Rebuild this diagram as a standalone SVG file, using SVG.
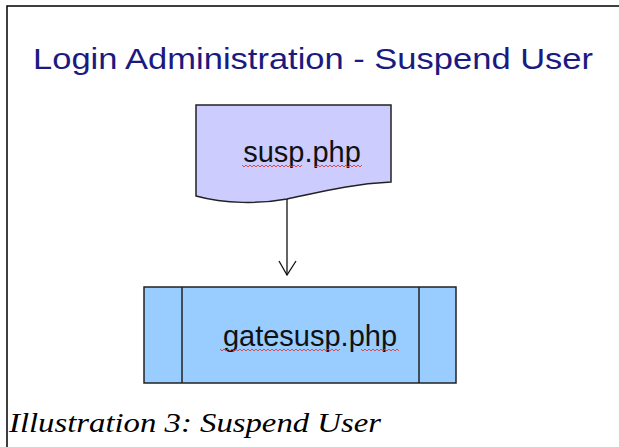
<svg xmlns="http://www.w3.org/2000/svg" width="619" height="447" viewBox="0 0 619 447">
  <style>
    .frame { stroke: #000; stroke-width: 1.5; fill: none; }
    .shape { stroke: #222; stroke-width: 1.5; }
    .label { font-family: "Liberation Sans", Arial, sans-serif; font-size: 29px; fill: #111; text-anchor: middle; }
    .title { font-family: "Liberation Sans", Arial, sans-serif; font-size: 29px; fill: #1a1a80; }
    .caption { font-family: "Liberation Serif", "Times New Roman", serif; font-style: italic; font-size: 27px; fill: #000; }
    .squiggle { stroke: #d04040; stroke-width: 0.9; fill: none; }
    .conn { stroke: #111; stroke-width: 1.3; fill: none; }
  </style>
  <rect x="0" y="0" width="619" height="447" fill="#ffffff"/>
  <path class="frame" d="M7,447 V6 H619"/>
  <text class="title" x="33" y="69" textLength="560" lengthAdjust="spacingAndGlyphs">Login Administration - Suspend User</text>

  <g id="susp">
    <path class="shape" fill="#ccccff" d="M196,105 H391 V182 C350,184 320,192 287,199 C260,204 225,204 196,196 Z"/>
    <text class="label" x="302" y="162">susp.php</text>
    <path class="squiggle" d="M242,165 l2,2 l2,-2 l2,2 l2,-2 l2,2 l2,-2 l2,2 l2,-2 l2,2 l2,-2 l2,2 l2,-2 l2,2 l2,-2 l2,2 l2,-2 l2,2 l2,-2 l2,2 l2,-2 l2,2 l2,-2 l2,2 l2,-2 l2,2 l2,-2 l2,2 l2,-2 l2,2 l2,-2 M314,165 l2,2 l2,-2 l2,2 l2,-2 l2,2 l2,-2 l2,2 l2,-2 l2,2 l2,-2 l2,2 l2,-2 l2,2 l2,-2 l2,2 l2,-2 l2,2 l2,-2 l2,2 l2,-2 l2,2 l2,-2 l2,2 l2,-2"/>
  </g>

  <g id="gatesusp">
    <rect class="shape" fill="#99ccff" x="144" y="287" width="312" height="96"/>
    <line class="shape" x1="182" y1="287" x2="182" y2="383"/>
    <line class="shape" x1="419" y1="287" x2="419" y2="383"/>
    <text class="label" x="310" y="346">gatesusp.php</text>
    <path class="squiggle" d="M220,349 l2,2 l2,-2 l2,2 l2,-2 l2,2 l2,-2 l2,2 l2,-2 l2,2 l2,-2 l2,2 l2,-2 l2,2 l2,-2 l2,2 l2,-2 l2,2 l2,-2 l2,2 l2,-2 l2,2 l2,-2 l2,2 l2,-2 l2,2 l2,-2 l2,2 l2,-2 l2,2 l2,-2 l2,2 l2,-2 l2,2 l2,-2 l2,2 l2,-2 l2,2 l2,-2 l2,2 l2,-2 l2,2 l2,-2 l2,2 l2,-2 l2,2 l2,-2 l2,2 l2,-2 l2,2 l2,-2 l2,2 l2,-2 l2,2 l2,-2 l2,2 l2,-2 l2,2 l2,-2 l2,2 l2,-2 M361,349 l2,2 l2,-2 l2,2 l2,-2 l2,2 l2,-2 l2,2 l2,-2 l2,2 l2,-2 l2,2 l2,-2 l2,2 l2,-2 l2,2 l2,-2 l2,2 l2,-2 l2,2"/>
  </g>

  <g id="connectors">
    <line class="conn" x1="287" y1="199" x2="287" y2="275"/>
    <path class="conn" d="M279,261 L287,275 L296,261"/>
  </g>

  <text class="caption" x="9" y="432" textLength="372" lengthAdjust="spacingAndGlyphs">Illustration 3: Suspend User</text>
</svg>
